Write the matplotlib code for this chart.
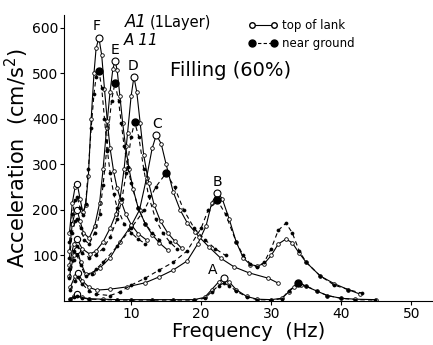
import matplotlib
matplotlib.use("Agg")
import matplotlib.pyplot as plt
import numpy as np
from matplotlib.lines import Line2D

# top of tank (solid, open circles) / near ground (dashed, filled dots)
f_F_top = [1.2, 1.6, 2.0, 2.3, 2.7, 3.1, 3.5, 3.9, 4.3, 4.7, 5.0, 5.4, 5.8, 6.2, 6.6, 7.0, 7.5, 8.0, 8.6, 9.2, 10.0, 11.0, 12.2]
a_F_top = [150, 215, 250, 258, 225, 195, 210, 275, 400, 500, 555, 578, 540, 465, 395, 335, 285, 248, 218, 192, 168, 148, 134]
f_F_near = [1.2, 1.6, 2.0, 2.3, 2.7, 3.1, 3.5, 3.9, 4.3, 4.7, 5.0, 5.4, 5.8, 6.2, 6.6, 7.0, 7.5, 8.0, 9.0, 10.0, 11.0, 12.0]
a_F_near = [130, 190, 222, 228, 205, 188, 212, 290, 380, 455, 492, 506, 468, 400, 332, 282, 236, 205, 170, 150, 136, 126]

f_E_top = [1.2, 1.6, 2.0, 2.3, 2.7, 3.2, 4.0, 4.8, 5.5, 6.0, 6.5, 7.0, 7.4, 7.7, 8.0, 8.4, 8.8, 9.2, 9.7, 10.3, 11.0, 12.0, 13.0, 14.0, 15.2]
a_E_top = [110, 170, 195, 200, 176, 150, 138, 165, 215, 290, 380, 460, 510, 527, 508, 450, 390, 340, 290, 245, 205, 170, 146, 128, 112]
f_E_near = [1.2, 1.6, 2.0, 2.3, 2.8, 3.3, 4.0, 4.8, 5.5, 6.0, 6.5, 7.2, 7.7, 8.2, 8.6, 9.0, 9.5, 10.0, 11.0, 12.0, 13.0, 14.0]
a_E_near = [95, 150, 175, 180, 160, 135, 125, 150, 190, 255, 330, 440, 479, 440, 390, 340, 295, 260, 205, 170, 150, 135]

f_D_top = [1.2, 1.8, 2.3, 3.0, 4.1, 5.0, 6.0, 7.0, 7.8, 8.4, 9.0, 9.5, 10.0, 10.4, 10.8, 11.3, 11.8, 12.5, 13.3, 14.2, 15.2, 16.2, 17.2]
a_D_top = [80, 125, 136, 115, 103, 110, 130, 160, 190, 222, 290, 370, 450, 492, 460, 390, 320, 260, 210, 175, 150, 132, 116]
f_D_near = [1.2, 1.8, 2.3, 3.0, 4.0, 5.0, 6.0, 7.0, 8.0, 8.7, 9.3, 10.0, 10.5, 11.1, 11.8, 12.5, 13.5, 14.5, 15.5, 16.5]
a_D_near = [70, 110, 120, 105, 95, 102, 115, 140, 180, 225, 280, 360, 393, 360, 290, 230, 180, 150, 130, 115]

f_C_top = [1.2, 1.8, 2.3, 2.8, 3.5, 4.5, 5.5, 7.0, 8.4, 10.0, 11.2, 12.2, 13.0, 13.6, 14.3, 15.0, 16.0, 17.0, 18.0, 19.1, 19.7, 21.1, 22.8, 24.7, 26.8, 29.6, 30.9]
a_C_top = [55, 100, 112, 85, 59, 62, 72, 95, 130, 165, 200, 270, 335, 365, 345, 300, 240, 200, 172, 152, 141, 119, 94, 75, 62, 50, 40]
f_C_near = [1.2, 1.8, 2.3, 2.8, 3.5, 4.4, 5.0, 6.0, 8.0, 10.0, 11.9, 13.5, 15.0, 16.2, 17.5, 19.0, 20.5, 22.0, 23.5]
a_C_near = [50, 90, 100, 78, 55, 60, 70, 85, 120, 160, 200, 250, 281, 250, 200, 160, 135, 115, 100]

f_B_top = [1.3, 2.0, 2.4, 3.0, 4.0, 5.1, 7.0, 9.4, 12.0, 14.0, 16.0, 18.0, 19.5, 20.7, 21.5, 22.3, 23.0, 24.0, 25.0, 26.0, 27.0, 28.0, 29.0, 30.0, 31.0, 32.1, 33.0, 34.0, 35.0, 37.0, 39.0, 41.0, 42.7]
a_B_top = [30, 55, 62, 45, 30, 24, 26, 31, 40, 53, 68, 88, 125, 165, 215, 237, 225, 180, 130, 95, 80, 77, 82, 100, 125, 136, 128, 105, 85, 55, 38, 25, 15]
f_B_near = [1.3, 2.0, 2.4, 3.0, 4.0, 5.0, 7.0, 8.4, 10.0, 12.0, 14.0, 16.0, 18.0, 20.0, 21.0, 22.3, 23.5, 25.0, 26.0, 27.0, 28.0, 29.0, 30.0, 31.0, 32.1, 33.0, 34.0, 35.0, 37.0, 39.0, 41.0, 43.0]
a_B_near = [25, 45, 52, 38, 22, 15, 12, 20, 35, 50, 68, 85, 110, 160, 200, 222, 190, 130, 100, 82, 75, 85, 115, 155, 171, 150, 110, 85, 55, 35, 25, 17]

f_A_top = [1.3, 1.8, 2.3, 3.0, 4.0, 6.0, 8.0, 10.0, 13.0, 16.0, 19.0, 20.5, 21.5, 22.5, 23.2, 24.0, 25.0, 26.5, 28.0, 30.0, 31.5, 32.5, 33.2, 34.2, 35.0, 36.5, 38.0, 40.0, 42.0, 45.0]
a_A_top = [5, 10, 15, 8, 5, 4, 3, 3, 3, 3, 3, 8, 25, 42, 50, 42, 25, 10, 4, 3, 6, 20, 30, 35, 32, 22, 12, 6, 4, 3]
f_A_near = [1.3, 1.8, 2.3, 3.0, 4.0, 6.0, 8.0, 10.0, 13.0, 16.0, 19.0, 20.5, 21.5, 22.5, 23.2, 24.0, 25.0, 26.5, 28.0, 30.0, 31.5, 32.5, 33.8, 35.0, 36.5, 38.0, 40.0, 42.0, 44.8]
a_A_near = [4, 8, 12, 7, 4, 3, 2, 2, 2, 2, 2, 6, 20, 34, 39, 34, 22, 9, 3, 2, 5, 22, 40, 33, 22, 12, 6, 3, 2]

top_curves = [(f_A_top, a_A_top), (f_B_top, a_B_top), (f_C_top, a_C_top),
              (f_D_top, a_D_top), (f_E_top, a_E_top), (f_F_top, a_F_top)]
near_curves = [(f_A_near, a_A_near), (f_B_near, a_B_near), (f_C_near, a_C_near),
               (f_D_near, a_D_near), (f_E_near, a_E_near), (f_F_near, a_F_near)]
peak_labels = ["A", "B", "C", "D", "E", "F"]
label_offsets = [(-11, 8), (0, 11), (1, 11), (-1, 11), (0, 11), (-2, 12)]

fig = plt.figure(figsize=(4.33, 3.45), dpi=100)
ax = fig.add_axes([0.148, 0.1275, 0.852, 0.829])

for (f, a) in top_curves:
    ax.plot(f, a, "-", color="black", lw=0.8, marker="o", ms=2.6,
            mfc="white", mec="black", mew=0.6)
    f = np.array(f); a = np.array(a)
    i = np.argmax(a)
    ax.plot(f[i], a[i], "o", ms=5, mfc="white", mec="black", mew=0.8)
    low = f < 3
    j = np.argmax(np.where(low, a, -1))
    ax.plot(f[j], a[j], "o", ms=4.5, mfc="white", mec="black", mew=0.8)

for (f, a) in near_curves:
    ax.plot(f, a, color="black", lw=0.8, dashes=(4, 3), marker="o", ms=2.2,
            mfc="black", mec="black", mew=0.5)
    f = np.array(f); a = np.array(a)
    i = np.argmax(a)
    ax.plot(f[i], a[i], "o", ms=5, color="black")

for (f, a), lab, off in zip(top_curves, peak_labels, label_offsets):
    f = np.array(f); a = np.array(a)
    i = np.argmax(a)
    ax.annotate(lab, (f[i], a[i]), xytext=off, textcoords="offset pixels",
                ha="center", va="center", fontsize=10)

ax.set_xlim(0.43, 53.1)
ax.set_ylim(0, 628)
ax.set_xticks([10, 20, 30, 40, 50])
ax.set_yticks([100, 200, 300, 400, 500, 600])
ax.tick_params(direction="out", length=3, width=0.8, labelsize=10, pad=1)
ax.spines["top"].set_visible(False)
ax.spines["right"].set_visible(False)
ax.spines["left"].set_linewidth(0.8)
ax.spines["bottom"].set_linewidth(0.8)

ax.set_xlabel("Frequency  (Hz)", fontsize=14, labelpad=1)
ax.set_ylabel("Acceleration  (cm/s$^2$)", fontsize=15, labelpad=1)

fig.text(0.289, 0.935, "A1", fontsize=12, style="italic", va="center")
fig.text(0.345, 0.935, "(1Layer)", fontsize=10.5, va="center")
fig.text(0.285, 0.883, "A 11", fontsize=11, style="italic", va="center")
fig.text(0.393, 0.795, "Filling (60%)", fontsize=14, va="center")

handles = [
    Line2D([0], [0], color="black", lw=0.8, marker="o", ms=4, mfc="white", mec="black"),
    Line2D([0], [0], color="black", lw=0.8, dashes=(3, 2), marker="o", ms=5, mfc="black"),
]
fig.legend(handles, ["top of lank", "near ground"], loc="upper left",
           bbox_to_anchor=(0.55, 0.975), frameon=False, fontsize=8.5,
           numpoints=2, handlelength=2.4, handletextpad=0.4, labelspacing=0.4)

fig.savefig("out.png", dpi=100)
